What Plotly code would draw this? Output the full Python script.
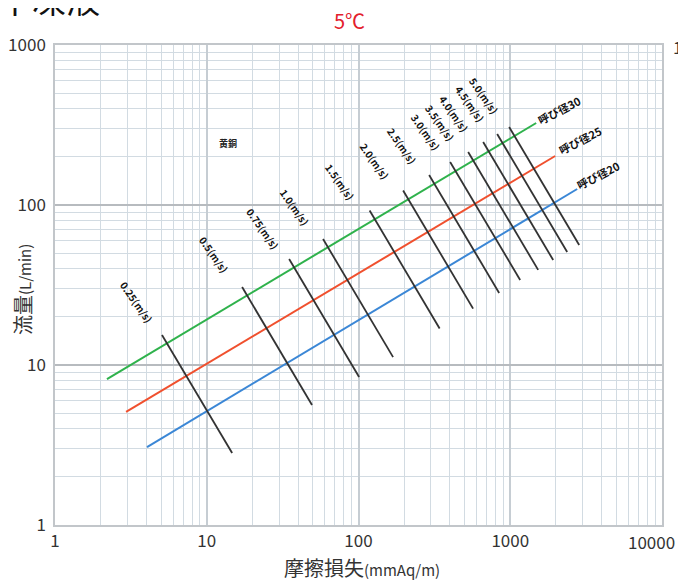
import math
import plotly.graph_objects as go

# ---- data ----
x_ticks = [1, 10, 100, 1000, 10000]
x_ticklabels = ["1", "10", "100", "1000", "10000"]
y_ticks = [1, 10, 100, 1000]
y_ticklabels = ["1", "10", "100", "1000"]

pipe_names = ["呼び径20", "呼び径25", "呼び径30"]
pipe_colors = ["#3b87d6", "#f0502e", "#2fb24c"]
pipe_x = [[4.04, 2761], [2.94, 1977], [2.20, 1482]]
pipe_y = [[3.07, 125.9], [5.09, 202.4], [8.17, 325.4]]
pipe_label_x = [3797, 2890, 2101]
pipe_label_y = [154, 254.8, 392.6]

vel_names = ["0.25(m/s)", "0.5(m/s)", "0.75(m/s)", "1.0(m/s)", "1.5(m/s)", "2.0(m/s)",
             "2.5(m/s)", "3.0(m/s)", "3.5(m/s)", "4.0(m/s)", "4.5(m/s)", "5.0(m/s)"]
vel_x0 = [5.07, 17.1, 34.9, 58.4, 118.4, 196.8, 292, 401.7, 528, 663, 820, 983.5]
vel_y0 = [15.4, 30.7, 46.0, 61.3, 92.4, 123.2, 154, 185.7, 214.5, 247.6, 277.8, 307.3]
vel_x1 = [14.7, 49.4, 100.9, 169, 342.4, 569, 845, 1162, 1527, 1918, 2372, 2846]
vel_y1 = [2.82, 5.62, 8.41, 11.2, 16.9, 22.5, 28.2, 34.0, 39.3, 45.3, 50.8, 56.2]
vel_label_x = [3.42, 11.2, 23.5, 37.6, 75.6, 126.7, 193.8, 274.8, 345, 426.8, 544, 673]
vel_label_y = [24.8, 49.4, 71.8, 97.2, 141, 188.4, 237, 286, 330, 375.8, 434, 487]

material_label = "黄銅"
material_x, material_y = 13.8, 244

title_text = "不凍液"
temp_text = "5℃"
x_title = "摩擦損失<span style='font-size:15px'>(mmAq/m)</span>"
y_title = "流量<span style='font-size:15px'>(L/min)</span>"

FONT = "Noto Sans CJK JP"
lg = math.log10

fig = go.Figure()

for name, col, xs, ys in zip(pipe_names, pipe_colors, pipe_x, pipe_y):
    fig.add_trace(go.Scatter(x=xs, y=ys, mode="lines", line=dict(color=col, width=2),
                             name=name, showlegend=False, hoverinfo="skip"))

for name, x0, y0, x1, y1 in zip(vel_names, vel_x0, vel_y0, vel_x1, vel_y1):
    fig.add_trace(go.Scatter(x=[x0, x1], y=[y0, y1], mode="lines",
                             line=dict(color="#333333", width=1.8),
                             name=name, showlegend=False, hoverinfo="skip"))

annotations = []
for name, lx, ly in zip(vel_names, vel_label_x, vel_label_y):
    annotations.append(dict(x=lg(lx), y=lg(ly), xref="x", yref="y", text="<b>%s</b>" % name,
                            showarrow=False, textangle=55,
                            font=dict(family=FONT, size=10, color="#111")))
for name, lx, ly in zip(pipe_names, pipe_label_x, pipe_label_y):
    annotations.append(dict(x=lg(lx), y=lg(ly), xref="x", yref="y", text="<b>%s</b>" % name,
                            showarrow=False, textangle=-27,
                            font=dict(family=FONT, size=11, color="#111")))
annotations.append(dict(x=lg(material_x), y=lg(material_y), xref="x", yref="y",
                        text="<b>%s</b>" % material_label, showarrow=False,
                        font=dict(family=FONT, size=9, color="#222")))

# titles and stray texts (paper coords relative to plot area: window px 55..662 x, 45..525 y)
W, H = 607.0, 480.0
def px(xp):
    return (xp - 55) / W
def py(yp):
    return (525 - yp) / H

annotations.append(dict(x=px(-4), y=py(-2), xref="paper", yref="paper", text=title_text,
                        showarrow=False, xanchor="left", yanchor="middle",
                        font=dict(family=FONT, size=34, color="#111")))
annotations.append(dict(x=px(349), y=py(20), xref="paper", yref="paper", text=temp_text,
                        showarrow=False, xanchor="center", yanchor="middle",
                        font=dict(family=FONT, size=20, color="#e3202c")))
annotations.append(dict(x=px(671), y=py(46), xref="paper", yref="paper", text="1000",
                        showarrow=False, xanchor="left", yanchor="middle",
                        font=dict(family=FONT, size=17, color="#333")))
# last x tick label, kept inside the visible area
annotations.append(dict(x=px(677), y=py(541), xref="paper", yref="paper", text=x_ticklabels[-1],
                        showarrow=False, xanchor="right", yanchor="middle",
                        font=dict(family=FONT, size=17, color="#333")))
annotations.append(dict(x=px(362), y=py(567), xref="paper", yref="paper", text=x_title,
                        showarrow=False, xanchor="center", yanchor="middle",
                        font=dict(family=FONT, size=20, color="#333")))
annotations.append(dict(x=px(22), y=py(290), xref="paper", yref="paper", text=y_title,
                        showarrow=False, xanchor="center", yanchor="middle", textangle=-90,
                        font=dict(family=FONT, size=20, color="#333")))

axis_common = dict(type="log", showgrid=True, gridwidth=1.5,
                   minor=dict(dtick="D1", showgrid=True, gridcolor="#d2dbe2", gridwidth=1, ticks=""),
                   showline=True, linecolor="#c2c6ca", linewidth=1.5, mirror=True,
                   zeroline=False, ticks="", tickmode="array", automargin=False,
                   tickfont=dict(family=FONT, size=17, color="#333"))

# page body has an 8px margin, so the figure sits at (8, 8) in the window
fig.update_layout(
    width=678, height=574,
    margin=dict(l=47, r=24, t=37, b=57, autoexpand=False),
    paper_bgcolor="white", plot_bgcolor="white",
    xaxis=dict(range=[0, 4], tickvals=x_ticks[:-1], ticktext=x_ticklabels[:-1],
               gridcolor="#c6cdd3", **axis_common),
    yaxis=dict(range=[0, 3], tickvals=y_ticks, ticktext=y_ticklabels, ticklabelstandoff=4,
               gridcolor="#b7bbbf", **axis_common),
    annotations=annotations,
    showlegend=False,
)

fig.write_html("out.html")
